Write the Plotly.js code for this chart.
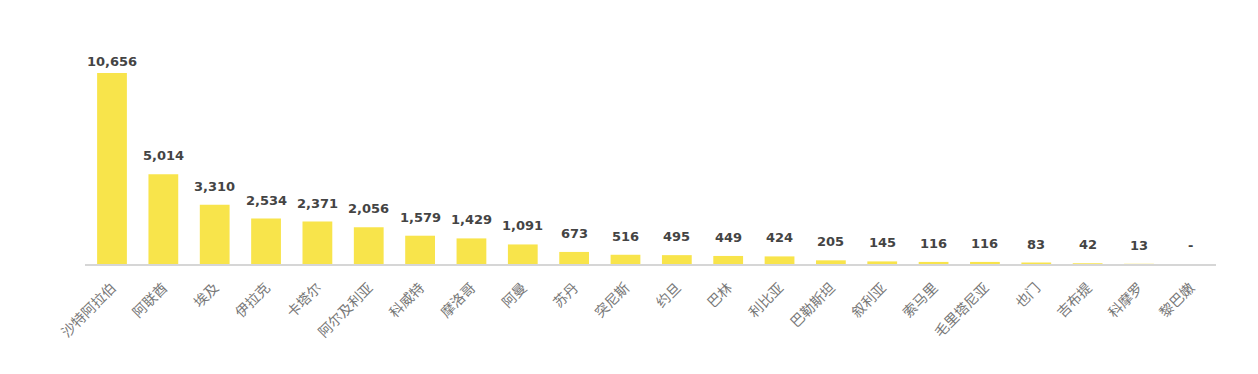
<!DOCTYPE html>
<html>
<head>
<meta charset="utf-8">
<script src="https://cdn.plot.ly/plotly-3.0.1.min.js"></script>
<style>html,body{margin:0;padding:0;background:#fff;}#chart{width:1258px;height:374px;}</style>
</head>
<body>
<div id="chart"></div>
<script>
const categories = ["沙特阿拉伯","阿联酋","埃及","伊拉克","卡塔尔","阿尔及利亚","科威特","摩洛哥","阿曼","苏丹","突尼斯","约旦","巴林","利比亚","巴勒斯坦","叙利亚","索马里","毛里塔尼亚","也门","吉布提","科摩罗","黎巴嫩"];
const values = [10656,5014,3310,2534,2371,2056,1579,1429,1091,673,516,495,449,424,205,145,116,116,83,42,13,null];
const valueLabels = values.map(v => v == null ? "-" : v.toLocaleString("en-US"));

const W = 1258, H = 374;
const margin = {l: 85, r: 42, t: 49, b: 110};
const yMax = 12000;
const plotH = H - margin.t - margin.b;
const labelFont = {family: "DejaVu Sans, Verdana, sans-serif", size: 13, color: "#444", weight: "bold"};
const LABEL_GAP = 9, LABEL_BOX = 17, LABEL_MIN_TOP = 54;

const yVals = values.map(v => v == null ? 0 : v);

const annotations = categories.map((c, i) => {
  const barTopPx = margin.t + plotH * (1 - yVals[i] / yMax);
  const shift = Math.min(LABEL_GAP, barTopPx - LABEL_BOX - LABEL_MIN_TOP);
  return {
    x: c, y: yVals[i], xref: "x", yref: "y",
    text: valueLabels[i], showarrow: false,
    yanchor: "bottom", xanchor: "center",
    yshift: shift, font: labelFont
  };
});

const trace = {
  type: "bar",
  x: categories,
  y: yVals,
  marker: {color: "#F8E44B"},
  hoverinfo: "x+y"
};

const layout = {
  width: W, height: H,
  margin: margin,
  paper_bgcolor: "#fff", plot_bgcolor: "#fff",
  bargap: 0.42,
  showlegend: false,
  annotations: annotations,
  xaxis: {
    type: "category",
    tickangle: -45,
    ticklabelstandoff: 8,
    tickfont: {family: "Noto Sans CJK SC, sans-serif", size: 14, color: "#777"},
    showline: true, linecolor: "#d6d6d6", linewidth: 2,
    ticks: "", showgrid: false, zeroline: false
  },
  yaxis: {
    range: [0, yMax],
    visible: false, showgrid: false, zeroline: false
  }
};

Plotly.newPlot("chart", [trace], layout, {displayModeBar: false, staticPlot: true});
</script>
</body>
</html>
